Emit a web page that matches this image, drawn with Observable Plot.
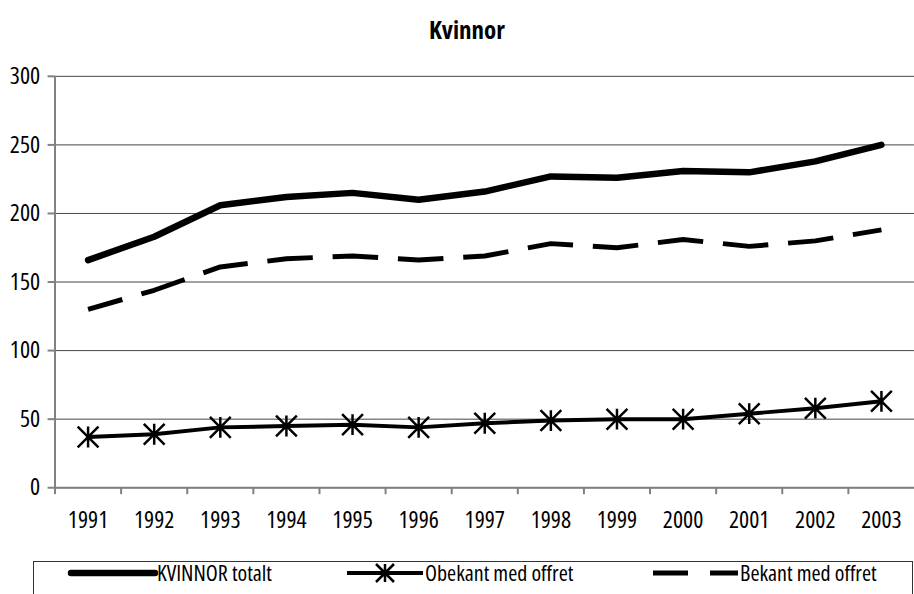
<!DOCTYPE html>
<html><head><meta charset="utf-8">
<script src="https://cdn.jsdelivr.net/npm/d3@7"></script>
<script src="https://cdn.jsdelivr.net/npm/@observablehq/plot@0.6"></script>
<style>
body{margin:0;background:#fff;overflow:hidden;}
#wrap{position:relative;width:914px;height:594px;overflow:hidden;font-family:"Open Sans",sans-serif;font-stretch:75%;color:#000;}
#wrap svg, #wrap svg text{font-stretch:75%;}
#title{position:absolute;top:14px;left:0;width:934px;text-align:center;font-weight:bold;font-size:25px;line-height:30px;font-stretch:75%;}
#chart{position:absolute;top:0;left:0;}
#legend{position:absolute;top:561px;left:33px;}
</style></head><body>
<div id="wrap"><div id="chart"></div><div id="title">Kvinnor</div><svg id="legend" width="881" height="33"></svg></div>
<script>
const years = [1991,1992,1993,1994,1995,1996,1997,1998,1999,2000,2001,2002,2003];
const totalt = [166,183,206,212,215,210,216,227,226,231,230,238,250];
const obekant = [37,39,44,45,46,44,47,49,50,50,54,58,63];
const bekant = [130,144,161,167,169,166,169,178,175,181,176,180,188];
const yTicks = [0,50,100,150,200,250,300];
const seriesNames = ["KVINNOR totalt","Obekant med offret","Bekant med offret"];

const FONT = '"Open Sans",sans-serif';
const rows = (vals) => years.map((y,i)=>({year:y, value:vals[i]}));
const bounds = years.map(y => y - 0.5);

const star = {
  draw(ctx, size) {
    const r = Math.sqrt(size / Math.PI);
    ctx.moveTo(0, -r); ctx.lineTo(0, r);
    ctx.moveTo(-r, -r); ctx.lineTo(r, r);
    ctx.moveTo(-r, r); ctx.lineTo(r, -r);
  }
};

const chart = Plot.plot({
  width: 922, height: 594,
  marginLeft: 55, marginRight: 0, marginTop: 76.5, marginBottom: 102.5,
  style: {fontFamily: FONT, fontSize: "24px", background: "#fff", color: "#000"},
  x: {domain: [years[0]-0.5, years[years.length-1]+0.5], axis: null},
  y: {domain: [0, 300], axis: null},
  marks: [
    Plot.ruleY(yTicks, {stroke: "#444", strokeWidth: 1}),
    Plot.axisY({ticks: yTicks, label: null, tickSize: 7, tickPadding: 8, fontSize: 24, stroke: "#808080", strokeWidth: 2, fill: "#000", tickFormat: d => d}),
    Plot.axisX({ticks: bounds, label: null, tickSize: 7, tickFormat: () => "", stroke: "#808080", strokeWidth: 2}),
    Plot.ruleX([years[0]-0.5], {y1: 0, y2: 300, stroke: "#808080", strokeWidth: 2}),
    Plot.ruleY([0], {stroke: "#808080", strokeWidth: 2}),
    Plot.text(years, {x: d => d, y: 0, dy: 33, text: d => String(d), fontSize: 24, fill: "#000"}),
    Plot.line(rows(bekant), {x: "year", y: "value", stroke: "#000", strokeWidth: 5, strokeDasharray: "46,20", strokeDashoffset: 10, strokeLinecap: "butt"}),
    Plot.line(rows(obekant), {x: "year", y: "value", stroke: "#000", strokeWidth: 4, strokeLinejoin: "round"}),
    Plot.dot(rows(obekant), {x: "year", y: "value", symbol: star, r: 10.5, stroke: "#000", strokeWidth: 2.5, fill: "none"}),
    Plot.line(rows(totalt), {x: "year", y: "value", stroke: "#000", strokeWidth: 6.5, strokeLinecap: "round", strokeLinejoin: "round"})
  ]
});
document.getElementById("chart").appendChild(chart);

// legend
const lg = d3.select("#legend");
lg.append("rect").attr("x", 0.5).attr("y", 0.5).attr("width", 879).attr("height", 60)
  .attr("fill", "#fff").attr("stroke", "#333").attr("stroke-width", 1);
const items = [
  {x1: 38, x2: 122, style: "thick"},
  {x1: 314, x2: 390, style: "star"},
  {x1: 620, x2: 705, style: "dash"}
];
items.forEach((it, i) => {
  const g = lg.append("g");
  const ln = g.append("line").attr("x1", it.x1).attr("x2", it.x2).attr("y1", 12).attr("y2", 12).attr("stroke", "#000");
  if (it.style === "thick") ln.attr("stroke-width", 6.5).attr("stroke-linecap", "round");
  if (it.style === "star") {
    ln.attr("stroke-width", 4);
    const c = (it.x1 + it.x2) / 2, r = 9;
    g.append("path").attr("d", `M${c},${12-r}L${c},${12+r}M${c-r},${12-r}L${c+r},${12+r}M${c-r},${12+r}L${c+r},${12-r}`)
      .attr("stroke", "#000").attr("stroke-width", 2.5).attr("fill", "none");
  }
  if (it.style === "dash") ln.attr("stroke-width", 5).attr("stroke-dasharray", "35,22");
  g.append("text").attr("x", it.x2 + 2).attr("y", 20).attr("font-family", FONT).attr("font-size", 22)
    .attr("fill", "#000").text(seriesNames[i]);
});
</script>
</body></html>
